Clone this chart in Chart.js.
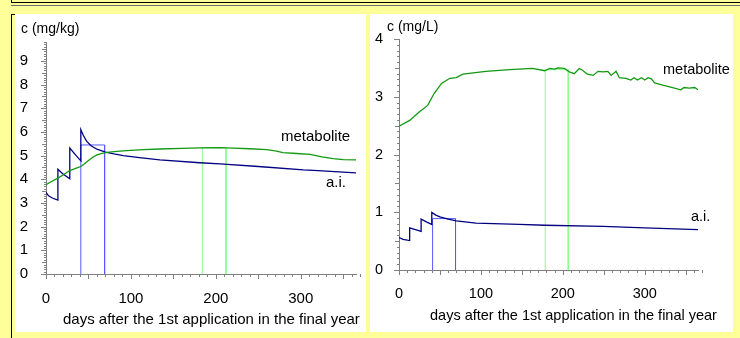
<!DOCTYPE html>
<html><head><meta charset="utf-8">
<script src="https://cdn.jsdelivr.net/npm/chart.js@4/dist/chart.umd.min.js"></script>
<style>
html,body{margin:0;padding:0;}
body{width:740px;height:338px;background:#FFFF99;position:relative;overflow:hidden;font-family:"Liberation Sans",Arial,sans-serif;}
.panel{position:absolute;background:#fff;}
#p1{left:15px;top:14px;width:351px;height:318px;}
#p2{left:370px;top:14px;width:363px;height:318px;}
.ln{position:absolute;}
canvas{display:block;}
</style></head><body>
<div class="ln" style="left:11px;top:2px;width:729px;height:1px;background:#000"></div>
<div class="ln" style="left:11px;top:0px;width:1px;height:3px;background:#000"></div>
<div class="ln" style="left:11px;top:5px;width:729px;height:1px;background:#707070"></div>
<div class="ln" style="left:11px;top:14px;width:1px;height:324px;background:#000"></div>
<div class="ln" style="left:11px;top:14px;width:4px;height:1px;background:#000"></div>
<div class="panel" id="p1"><canvas id="c1" width="351" height="318"></canvas></div>
<div class="panel" id="p2"><canvas id="c2" width="363" height="318"></canvas></div>
<script>
// ---------- data: left chart (soil, mg/kg) ----------
const xTickLabels = [0, 100, 200, 300];
const yTickLabelsL = [0,1,2,3,4,5,6,7,8,9];
const aiDaysL = [0,3,8,14,14,20,28,28,35,41,41,44,48,53,60,70,80,91,110,134,181,205,250,303,315,365];
const aiValsL = [3.45,3.30,3.20,3.12,4.42,4.22,4.02,5.32,5.02,4.78,6.10,5.85,5.60,5.42,5.27,5.15,5.07,5.00,4.92,4.82,4.70,4.65,4.54,4.40,4.38,4.27];
const metDaysL = [0,7,14,21,28,35,41,45,50,55,60,66,72,83,95,115,134,160,181,205,220,240,260,270,279,295,311,325,338,350,365];
const metValsL = [3.77,3.92,4.05,4.20,4.37,4.46,4.54,4.65,4.79,4.93,5.03,5.10,5.14,5.18,5.21,5.25,5.28,5.31,5.33,5.34,5.32,5.29,5.25,5.20,5.13,5.09,5.05,4.95,4.87,4.83,4.82];
const aiWindowL = [41, 69];
const aiLevelL = 5.45;
const metWindowL = [184, 212];
const metLevelL = 5.34;

// ---------- data: right chart (water, mg/L) ----------
const yTickLabelsR = [0,1,2,3,4];
const aiDaysR = [0,5,13,13,20,27,27,34,40,40,45,50,60,70,94,147,178,249,300,365];
const aiValsR = [0.56,0.53,0.51,0.73,0.70,0.67,0.88,0.83,0.79,0.995,0.95,0.92,0.88,0.85,0.81,0.79,0.775,0.757,0.73,0.70];
const metDaysR = [0,13,25,35,43,52,62,70,78,106,135,163,178,184,190,194,202,208,214,220,224,230,237,243,249,255,259,265,269,277,283,287,291,296,300,304,308,312,322,334,344,348,354,361,365];
const metValsR = [2.49,2.59,2.74,2.85,3.06,3.23,3.32,3.33,3.39,3.44,3.47,3.49,3.45,3.49,3.48,3.50,3.49,3.43,3.40,3.49,3.46,3.39,3.37,3.44,3.43,3.44,3.37,3.44,3.33,3.32,3.29,3.33,3.29,3.33,3.29,3.33,3.31,3.24,3.20,3.16,3.12,3.16,3.15,3.16,3.12];
const aiWindowR = [41, 69];
const aiLevelR = 0.89;
const metWindowR = [178.5, 206.6];
const metLevelR = 3.47;

const AI_COLOR = '#000080', MET_COLOR = '#119911', WIN_AI = '#5858FF', WIN_MET = '#88FF88', AXIS = '#808080';
const FONT = '"Liberation Sans", Arial, sans-serif';

function pts(xs, ys){ return xs.map((x,i)=>({x:x, y:ys[i]})); }
function win(w, lvl){ return [{x:w[0],y:0},{x:w[0],y:lvl},{x:w[1],y:lvl},{x:w[1],y:0}]; }

const tickPlugin = {
  id: 'minorTicks',
  afterDraw(chart, args, o){
    const ctx = chart.ctx, xs = chart.scales.x, ys = chart.scales.y;
    ctx.save();
    ctx.strokeStyle = AXIS; ctx.lineWidth = 1;
    ctx.beginPath();
    const nx = Math.round(xs.max / 10);
    for (let i = 0; i <= nx; i++){
      const px = Math.round(xs.getPixelForValue(i*10)) + 0.5;
      const len = (i % 5 === 0) ? 5 : 3;
      ctx.moveTo(px, ys.bottom); ctx.lineTo(px, ys.bottom + len);
    }
    const ny = Math.round(ys.max * 10);
    for (let j = 0; j <= ny; j++){
      const py = Math.round(ys.getPixelForValue(j/10)) + 0.5;
      const len = (j % 10 === 0) ? 5 : (j % 5 === 0 ? 4 : 2);
      ctx.moveTo(xs.left, py); ctx.lineTo(xs.left - len, py);
    }
    ctx.stroke();
    ctx.restore();
  }
};
const textPlugin = {
  id: 'texts',
  afterDraw(chart, args, o){
    const ctx = chart.ctx;
    ctx.save();
    ctx.fillStyle = '#000';
    ctx.textBaseline = 'middle'; ctx.textAlign = 'left';
    (o.items || []).forEach(t => {
      ctx.font = t.size + 'px ' + FONT;
      ctx.fillText(t.text, t.x, t.y);
    });
    ctx.restore();
  }
};

function makeChart(id, cfg){
  return new Chart(document.getElementById(id), {
    type: 'line',
    data: { datasets: [
      { data: win(cfg.aiWin, cfg.aiLvl), borderColor: WIN_AI, borderWidth: 1, pointRadius: 0, order: 3 },
      { data: win(cfg.metWin, cfg.metLvl), borderColor: WIN_MET, borderWidth: 1, pointRadius: 0, order: 3 },
      { data: pts(cfg.metD, cfg.metV), borderColor: MET_COLOR, borderWidth: 1.3, pointRadius: 0, order: 1 },
      { data: pts(cfg.aiD, cfg.aiV), borderColor: AI_COLOR, borderWidth: 1.3, pointRadius: 0, order: 1 }
    ]},
    options: {
      responsive: false, animation: false, events: [], devicePixelRatio: 1,
      layout: { padding: cfg.pad },
      plugins: { legend: { display: false }, tooltip: { enabled: false }, texts: { items: cfg.texts } },
      elements: { line: { tension: 0 } },
      scales: {
        x: {
          type: 'linear', min: 0, max: 365,
          afterFit: s => { s.height = cfg.xh; },
          afterBuildTicks: s => { s.ticks = xTickLabels.map(v => ({ value: v })); },
          grid: { display: false, drawTicks: false },
          border: { display: true, color: AXIS, width: 1 },
          ticks: { color: '#000', font: { family: FONT, size: cfg.fs }, padding: cfg.xpad, maxRotation: 0, autoSkip: false }
        },
        y: {
          type: 'linear', min: 0, max: cfg.ymax,
          afterFit: s => { s.width = cfg.yw; },
          afterBuildTicks: s => { s.ticks = cfg.yLabels.map(v => ({ value: v })); },
          grid: { display: false, drawTicks: false },
          border: { display: true, color: AXIS, width: 1 },
          ticks: { color: '#000', font: { family: FONT, size: cfg.fs }, padding: cfg.ypad }
        }
      }
    },
    plugins: [tickPlugin, textPlugin]
  });
}

makeChart('c1', {
  aiD: aiDaysL, aiV: aiValsL, metD: metDaysL, metV: metValsL,
  aiWin: aiWindowL, aiLvl: aiLevelL, metWin: metWindowL, metLvl: metLevelL,
  yLabels: yTickLabelsL, ymax: 9.8, yw: 31, xh: 58, pad: { top: 28, right: 10, bottom: 0, left: 0 },
  fs: 15, xpad: 16, ypad: 18,
  texts: [
    { text: 'c (mg/kg)', x: 6, y: 15, size: 14 },
    { text: 'metabolite', x: 266, y: 123, size: 15 },
    { text: 'a.i.', x: 311, y: 169, size: 15 },
    { text: 'days after the 1st application in the final year', x: 48, y: 306, size: 15 }
  ]
});
makeChart('c2', {
  aiD: aiDaysR, aiV: aiValsR, metD: metDaysR, metV: metValsR,
  aiWin: aiWindowR, aiLvl: aiLevelR, metWin: metWindowR, metLvl: metLevelR,
  yLabels: yTickLabelsR, ymax: 4, yw: 29, xh: 62, pad: { top: 25, right: 35, bottom: 0, left: 0 },
  fs: 14.5, xpad: 15, ypad: 16,
  texts: [
    { text: 'c (mg/L)', x: 17, y: 13.5, size: 14 },
    { text: 'metabolite', x: 293, y: 56, size: 14.5 },
    { text: 'a.i.', x: 321, y: 203, size: 14.5 },
    { text: 'days after the 1st application in the final year', x: 60, y: 302, size: 14.5 }
  ]
});
</script>
</body></html>
